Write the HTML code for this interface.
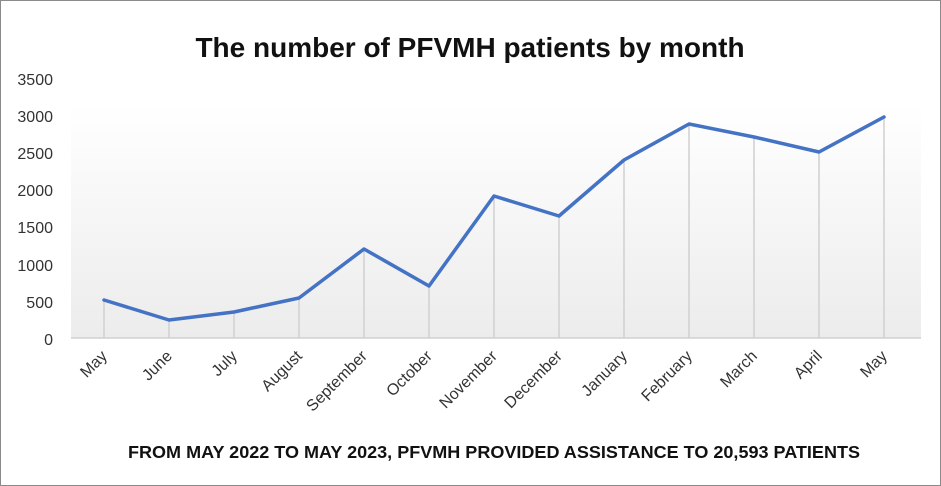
<!DOCTYPE html>
<html><head><style>
html,body{margin:0;padding:0;background:#fff;}
svg{display:block;}
text{font-family:"Liberation Sans",sans-serif;}
</style></head><body>
<svg width="941" height="486" viewBox="0 0 941 486">
<defs><linearGradient id="g" x1="0" y1="0" x2="0" y2="1">
<stop offset="0" stop-color="#ffffff"/><stop offset="1" stop-color="#ececec"/></linearGradient></defs>
<rect x="0.5" y="0.5" width="940" height="485" fill="#fff" stroke="#8a8a8a"/>
<rect x="71" y="105" width="850" height="233" fill="url(#g)"/>
<text x="470" y="57" text-anchor="middle" font-size="28" font-weight="bold" fill="#111">The number of PFVMH patients by month</text>
<g font-size="16" fill="#333" text-anchor="end">
<text x="53" y="85">3500</text><text x="53" y="122">3000</text><text x="53" y="159">2500</text>
<text x="53" y="196">2000</text><text x="53" y="233">1500</text><text x="53" y="271">1000</text>
<text x="53" y="308">500</text><text x="53" y="345">0</text>
</g>
<line x1="71" y1="338" x2="921" y2="338" stroke="#d0d0d0" stroke-width="1.5"/>
<g stroke="#d0d0d0" stroke-width="1.5">
<line x1="104" y1="300" x2="104" y2="338"/><line x1="169" y1="320" x2="169" y2="338"/>
<line x1="234" y1="312" x2="234" y2="338"/><line x1="299" y1="298" x2="299" y2="338"/>
<line x1="364" y1="249" x2="364" y2="338"/><line x1="429" y1="286" x2="429" y2="338"/>
<line x1="494" y1="196" x2="494" y2="338"/><line x1="559" y1="216" x2="559" y2="338"/>
<line x1="624" y1="160" x2="624" y2="338"/><line x1="689" y1="124" x2="689" y2="338"/>
<line x1="754" y1="137" x2="754" y2="338"/><line x1="819" y1="152" x2="819" y2="338"/>
<line x1="884" y1="117" x2="884" y2="338"/>
</g>
<polyline fill="none" stroke="#4472c4" stroke-width="3.5" stroke-linejoin="round" stroke-linecap="round"
points="104,300 169,320 234,312 299,298 364,249 429,286 494,196 559,216 624,160 689,124 754,137 819,152 884,117"/>
<g font-size="16" fill="#333" text-anchor="end">
<text transform="translate(108,357) rotate(-45)">May</text>
<text transform="translate(173,357) rotate(-45)">June</text>
<text transform="translate(238,357) rotate(-45)">July</text>
<text transform="translate(303,357) rotate(-45)">August</text>
<text transform="translate(368,357) rotate(-45)">September</text>
<text transform="translate(433,357) rotate(-45)">October</text>
<text transform="translate(498,357) rotate(-45)">November</text>
<text transform="translate(563,357) rotate(-45)">December</text>
<text transform="translate(628,357) rotate(-45)">January</text>
<text transform="translate(693,357) rotate(-45)">February</text>
<text transform="translate(758,357) rotate(-45)">March</text>
<text transform="translate(823,357) rotate(-45)">April</text>
<text transform="translate(888,357) rotate(-45)">May</text>
</g>
<text x="494" y="458" text-anchor="middle" font-size="17.5" font-weight="bold" fill="#111" textLength="732" lengthAdjust="spacingAndGlyphs">FROM MAY 2022 TO MAY 2023, PFVMH PROVIDED ASSISTANCE TO 20,593 PATIENTS</text>
</svg>
</body></html>
